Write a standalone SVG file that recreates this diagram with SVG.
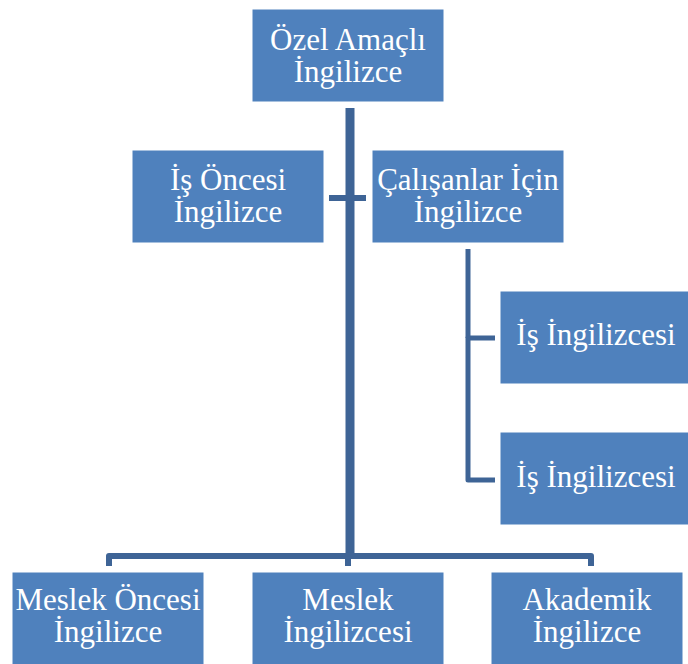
<svg xmlns="http://www.w3.org/2000/svg" width="688" height="664" viewBox="0 0 688 664">
  <style>
    .box { fill: #4F81BD; stroke: #ffffff; stroke-width: 1; }
    .lbl { font-family: "Liberation Serif", "Times New Roman", "DejaVu Serif", serif; font-size: 31px; fill: #ffffff; text-anchor: middle; }
    .conn { fill: none; stroke: #3E6496; stroke-linecap: butt; stroke-linejoin: round; }
  </style>
  <rect width="688" height="664" fill="#ffffff"/>

  <!-- connectors -->
  <g id="connectors">
    <!-- main trunk -->
    <line class="conn" x1="350" y1="108" x2="350" y2="559" stroke-width="9"/>
    <line class="conn" x1="348" y1="556" x2="348" y2="566" stroke-width="6"/>
    <!-- cross bar to the two middle nodes -->
    <line class="conn" x1="329" y1="198" x2="366" y2="198" stroke-width="6"/>
    <!-- sub-branch of Çalışanlar İçin İngilizce -->
    <polyline class="conn" points="495,338 468,338 468,480 495,480" stroke-width="5"/>
    <line class="conn" x1="468" y1="249" x2="468" y2="338" stroke-width="5"/>
    <!-- bottom bus -->
    <polyline class="conn" points="109,566 109,556 591,556 591,566" stroke-width="6"/>
  </g>

  <g id="ozel-amacli">
    <rect class="box" x="252" y="9" width="192" height="93"/>
    <text class="lbl" x="348" y="50" font-family="Liberation Serif, serif">Özel Amaçlı</text>
    <text class="lbl" x="348" y="82" font-family="Liberation Serif, serif">İngilizce</text>
  </g>

  <g id="is-oncesi">
    <rect class="box" x="132" y="150" width="192" height="93"/>
    <text class="lbl" x="228" y="190">İş Öncesi</text>
    <text class="lbl" x="228" y="222">İngilizce</text>
  </g>

  <g id="calisanlar-icin">
    <rect class="box" x="372" y="150" width="192" height="93"/>
    <text class="lbl" x="468" y="190">Çalışanlar İçin</text>
    <text class="lbl" x="468" y="222">İngilizce</text>
  </g>

  <g id="is-ingilizcesi-1">
    <rect class="box" x="500" y="291" width="192" height="93"/>
    <text class="lbl" x="596" y="345">İş İngilizcesi</text>
  </g>

  <g id="is-ingilizcesi-2">
    <rect class="box" x="500" y="432" width="192" height="93"/>
    <text class="lbl" x="596" y="487">İş İngilizcesi</text>
  </g>

  <g id="meslek-oncesi">
    <rect class="box" x="12" y="572" width="192" height="93"/>
    <text class="lbl" x="108" y="610">Meslek Öncesi</text>
    <text class="lbl" x="108" y="642">İngilizce</text>
  </g>

  <g id="meslek">
    <rect class="box" x="252" y="572" width="192" height="93"/>
    <text class="lbl" x="348" y="610">Meslek</text>
    <text class="lbl" x="348" y="642">İngilizcesi</text>
  </g>

  <g id="akademik">
    <rect class="box" x="491" y="572" width="192" height="93"/>
    <text class="lbl" x="587" y="610">Akademik</text>
    <text class="lbl" x="587" y="642">İngilizce</text>
  </g>
</svg>
